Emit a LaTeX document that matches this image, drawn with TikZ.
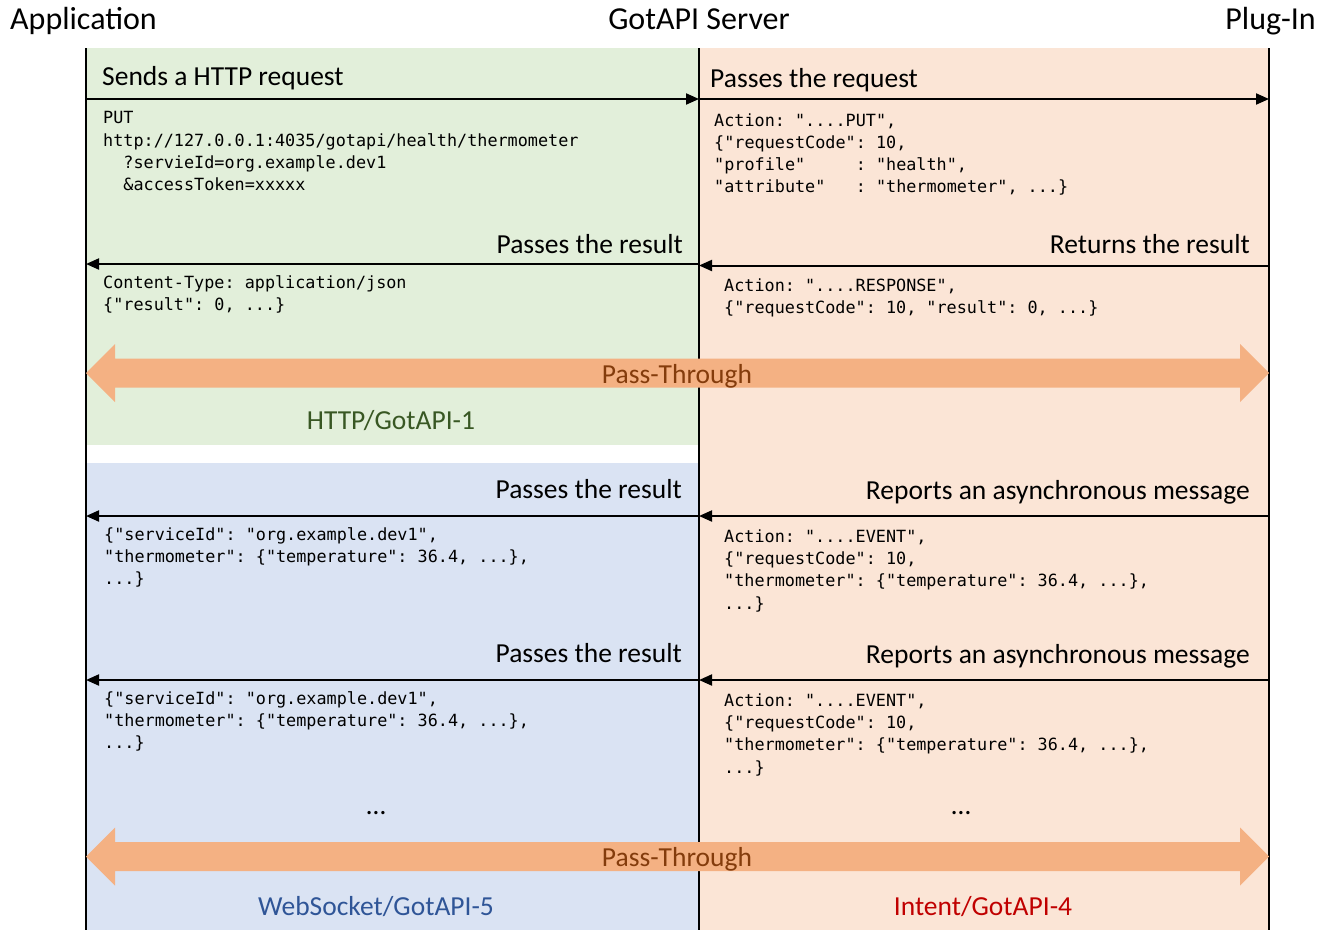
\documentclass[tikz,border=0pt]{standalone}
\usepackage{fontspec}
\setmainfont{Carlito}
\setmonofont{DejaVu Sans Mono}
\usepackage{xcolor}
\usetikzlibrary{arrows.meta}
\definecolor{httpfill}{HTML}{E2EFDA}
\definecolor{intentfill}{HTML}{FBE5D6}
\definecolor{wsfill}{HTML}{DAE3F3}
\definecolor{passfill}{HTML}{F4B183}
\definecolor{passtext}{HTML}{843C0C}
\definecolor{httptext}{HTML}{385723}
\definecolor{wstext}{HTML}{2F5597}
\definecolor{intenttext}{HTML}{C00000}

\begin{document}
\begin{tikzpicture}[x=1pt, y=-1pt,
	lifeline/.style={line width=2.4pt},
	msg/.style={line width=2pt, -{Triangle[length=13pt,width=11pt]}},
	headtext/.style={inner sep=0pt, font=\fontsize{32}{38}\selectfont},
	msgtext/.style={inner sep=0pt, font=\fontsize{27.5}{33}\selectfont},
	codetext/.style={inner sep=0pt, align=left, anchor=base west, font=\ttfamily\fontsize{16.8}{22.2}\selectfont},
	passtip/.style={fill=passfill}]
	\useasboundingbox (0,0) rectangle (1325,930);
	% regions
	\fill[httpfill] (86,48) rectangle (699,445);
	\fill[wsfill] (86,463) rectangle (699,930);
	\fill[intentfill] (699,48) rectangle (1269,930);
	% lifelines
	\node[headtext, anchor=base west] (app) at (10,29) {Application};
	\node[headtext, anchor=base] (server) at (699,29) {GotAPI Server};
	\node[headtext, anchor=base east] (plugin) at (1316,29) {Plug-In};
	\coordinate (app top) at (86,48);     \coordinate (app bottom) at (86,930);
	\coordinate (server top) at (699,48); \coordinate (server bottom) at (699,930);
	\coordinate (plugin top) at (1269,48); \coordinate (plugin bottom) at (1269,930);
	\draw[lifeline] (app top) -- (app bottom);
	\draw[lifeline] (server top) -- (server bottom);
	\draw[lifeline] (plugin top) -- (plugin bottom);
	% pass-through arrows
	\foreach \y/\name in {373/pass1, 856.5/pass2}{
		\fill[passtip] (86,\y) -- (115,{\y-29}) -- (115,{\y-14.5}) -- (1240,{\y-14.5}) -- (1240,{\y-29})
			-- (1269,\y) -- (1240,{\y+29}) -- (1240,{\y+14.5}) -- (115,{\y+14.5}) -- (115,{\y+29}) -- cycle;
		\node[msgtext, text=passtext, anchor=base] (\name) at (677,{\y+10}) {Pass-Through};
	}
	% request (code nodes sit on the baseline of their last line)
	\coordinate (a1) at (86,99); \coordinate (s1) at (699,99); \coordinate (p1) at (1269,99);
	\draw[msg] (a1) -- (s1);
	\draw[msg] (s1) -- (p1);
	\node[msgtext, anchor=base west] (send) at (102,85) {Sends a HTTP request};
	\node[msgtext, anchor=base west] (forward) at (710,87) {Passes the request};
	\node[codetext] (put) at (103,190.5) {PUT\\
		http://127.0.0.1:4035/gotapi/health/thermometer\\
		~~?servieId=org.example.dev1\\
		~~\&accessToken=xxxxx};
	\node[codetext] (putaction) at (714,192.7) {Action: "....PUT",\\
		\{"requestCode": 10,\\
		"profile"~~~~~:~"health",\\
		"attribute"~~~:~"thermometer", ...\}};
	% response
	\coordinate (a2) at (86,264); \coordinate (s2) at (699,264);
	\coordinate (s2r) at (699,265.5); \coordinate (p2) at (1269,265.5);
	\draw[msg] (s2) -- (a2);
	\draw[msg] (p2) -- (s2r);
	\node[msgtext, anchor=base east] (result) at (683,253) {Passes the result};
	\node[msgtext, anchor=base east] (return) at (1250,253) {Returns the result};
	\node[codetext] (json) at (103,310.7) {Content-Type: application/json\\
		\{"result": 0, ...\}};
	\node[codetext] (response) at (724,313.3) {Action: "....RESPONSE",\\
		\{"requestCode": 10, "result": 0, ...\}};
	\node[msgtext, text=httptext, anchor=base] (http) at (391,429) {HTTP/GotAPI-1};
	% events
	\foreach \row/\y in {3/516, 4/680}{
		\coordinate (a\row) at (86,\y); \coordinate (s\row) at (699,\y); \coordinate (p\row) at (1269,\y);
		\draw[msg] (s\row) -- (a\row);
		\draw[msg] (p\row) -- (s\row);
		\node[msgtext, anchor=base east] (wsresult\row) at (682,{\y-18}) {Passes the result};
		\node[msgtext, anchor=base east] (report\row) at (1250,{\y-17}) {Reports an asynchronous message};
		\node[codetext] (wsjson\row) at (104,{\y+68.5}) {\{"serviceId": "org.example.dev1",\\
			"thermometer": \{"temperature": 36.4, ...\},\\
			...\}};
		\node[codetext] (event\row) at (724,{\y+93}) {Action: "....EVENT",\\
			\{"requestCode": 10,\\
			"thermometer": \{"temperature": 36.4, ...\},\\
			...\}};
	}
	\node[msgtext, anchor=base] (wsmore) at (376,814) {…};
	\node[msgtext, anchor=base] (intentmore) at (961,814) {…};
	\node[msgtext, text=wstext, anchor=base] (websocket) at (376,915) {WebSocket/GotAPI-5};
	\node[msgtext, text=intenttext, anchor=base] (intent) at (983,915) {Intent/GotAPI-4};
\end{tikzpicture}
\end{document}
